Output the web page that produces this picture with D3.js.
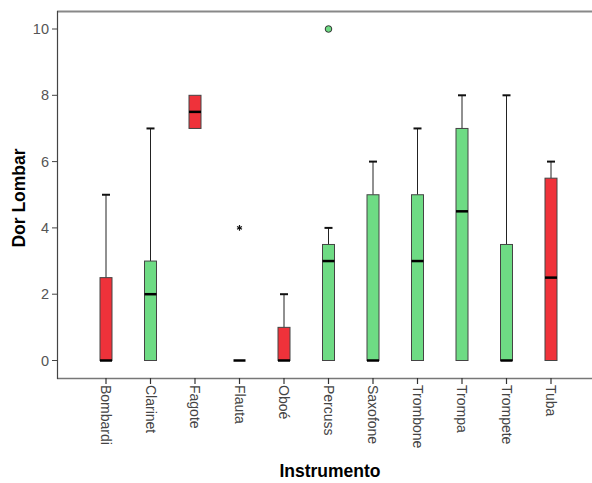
<!DOCTYPE html>
<html><head><meta charset="utf-8">
<script src="https://cdn.jsdelivr.net/npm/d3@7"></script>
<style>body{margin:0;background:#fff}svg{display:block}</style>
</head><body>
<script>
const categories = ["Bombardi","Clarinet","Fagote","Flauta","Oboé","Percuss","Saxofone","Trombone","Trompa","Trompete","Tuba"];
const whiskerLow = [0,0,7,0,0,0,0,0,0,0,0];
const q1 = [0,0,7,0,0,0,0,0,0,0,0];
const median = [0,2,7.5,0,0,3,0,3,4.5,0,2.5];
const q3 = [2.5,3,8,0,1,3.5,5,5,7,3.5,5.5];
const whiskerHigh = [5,7,8,0,2,4,6,7,8,8,6];
const boxGroup = ["red","green","red","red","red","green","green","green","green","green","red"];
const outliers = [{cat:"Percuss", value:10, type:"circle"}];
const extremes = [{cat:"Flauta", value:4, type:"star"}];
const yTicks = [0,2,4,6,8,10];
const colors = {red:"#EF323A", green:"#6EDB84"};

(function(){
const W=592,H=483;
const svg=d3.select("body").append("svg").attr("width",W).attr("height",H);
const mLeft=57, mRight=592, mTop=11, mBottom=378;
const y=d3.scaleLinear().domain([0,10]).range([360.5,29]);
const x=d3.scalePoint().domain(categories).range([106,551]);

// frame
svg.append("line").attr("x1",mLeft).attr("x2",mRight).attr("y1",mTop+0.5).attr("y2",mTop+0.5).attr("stroke","#888").attr("stroke-width",2);
svg.append("line").attr("x1",mLeft).attr("x2",mRight).attr("y1",mBottom+0.5).attr("y2",mBottom+0.5).attr("stroke","#777").attr("stroke-width",1.5);
svg.append("line").attr("x1",mLeft+0.5).attr("x2",mLeft+0.5).attr("y1",mTop).attr("y2",mBottom+1).attr("stroke","#444").attr("stroke-width",1.2);

// y axis ticks
const yAxis=svg.append("g");
yTicks.forEach(t=>{
  yAxis.append("line").attr("x1",mLeft-5).attr("x2",mLeft).attr("y1",y(t)).attr("y2",y(t)).attr("stroke","#444");
  yAxis.append("text").attr("x",mLeft-8).attr("y",y(t)).attr("dy","0.35em").attr("text-anchor","end")
    .attr("font-family","Liberation Sans, Arial, sans-serif").attr("font-size",14.5).attr("fill","#555").text(t);
});
// x axis ticks
categories.forEach(c=>{
  svg.append("line").attr("x1",x(c)).attr("x2",x(c)).attr("y1",mBottom).attr("y2",mBottom+6).attr("stroke","#333").attr("stroke-width",1.2);
  svg.append("text").attr("transform",`translate(${x(c)-5},${mBottom+7}) rotate(90)`)
    .attr("font-family","Liberation Sans, Arial, sans-serif").attr("font-size",14).attr("fill","#444")
    .attr("text-anchor","start").text(c);
});

// boxes
const bw=12, cap=4;
categories.forEach((c,i)=>{
  const cx=x(c);
  const g=svg.append("g");
  if(whiskerHigh[i]>q3[i]){
    g.append("line").attr("x1",cx).attr("x2",cx).attr("y1",y(q3[i])).attr("y2",y(whiskerHigh[i])).attr("stroke","#222").attr("stroke-width",1);
    g.append("line").attr("x1",cx-cap).attr("x2",cx+cap).attr("y1",y(whiskerHigh[i])).attr("y2",y(whiskerHigh[i])).attr("stroke","#111").attr("stroke-width",2);
  }
  if(whiskerLow[i]<q1[i]){
    g.append("line").attr("x1",cx).attr("x2",cx).attr("y1",y(q1[i])).attr("y2",y(whiskerLow[i])).attr("stroke","#222");
  }
  if(q3[i]>q1[i]){
    g.append("rect").attr("x",cx-bw/2).attr("width",bw).attr("y",y(q3[i])).attr("height",y(q1[i])-y(q3[i]))
      .attr("fill",colors[boxGroup[i]]).attr("stroke","#444").attr("stroke-width",1);
  }
  g.append("line").attr("x1",cx-bw/2).attr("x2",cx+bw/2).attr("y1",y(median[i])).attr("y2",y(median[i])).attr("stroke","#000").attr("stroke-width",2.5);
});

// outliers
outliers.forEach(o=>{
  svg.append("circle").attr("cx",x(o.cat)).attr("cy",y(o.value)).attr("r",3.3).attr("fill",colors.green).attr("stroke","#333").attr("stroke-width",1);
});
extremes.forEach(o=>{
  svg.append("path").attr("d",d3.symbol(d3.symbolAsterisk,22)()).attr("transform",`translate(${x(o.cat)},${y(o.value)})`)
    .attr("stroke","#111").attr("stroke-width",1.2).attr("fill","none");
});

// axis titles
svg.append("text").attr("x",330).attr("y",477).attr("text-anchor","middle")
  .attr("font-family","Liberation Sans, Arial, sans-serif").attr("font-weight","bold").attr("font-size",17.5).attr("fill","#000").text("Instrumento");
svg.append("text").attr("transform","translate(25,198) rotate(-90)").attr("text-anchor","middle")
  .attr("font-family","Liberation Sans, Arial, sans-serif").attr("font-weight","bold").attr("font-size",17.5).attr("fill","#000").text("Dor Lombar");
})();
</script>
</body></html>
